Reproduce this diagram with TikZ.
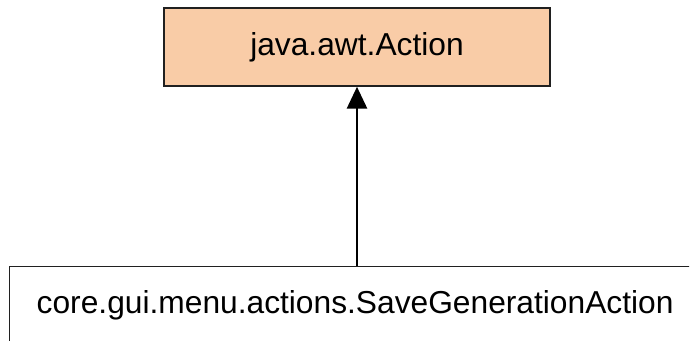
\documentclass[tikz,border=0pt]{standalone}
\usepackage{fontspec}
\setmainfont{Liberation Sans}
\usepackage{tikz}
\usetikzlibrary{arrows.meta}
\usetikzlibrary{shapes}
\usetikzlibrary{positioning}
\definecolor{classfill}{HTML}{F9CCA7}
\definecolor{classline}{HTML}{202020}
\tikzstyle{parentclass}=[rectangle,draw=classline,fill=classfill,line width=1.1pt,inner sep=0mm,minimum width=289.5pt,minimum height=58.5pt]
\tikzstyle{childclass}=[rectangle,draw=classline,fill=white,line width=1.1pt,inner xsep=20.25pt,inner ysep=0pt,minimum width=525pt,minimum height=58.2pt,text width=484.5pt,align=left]
\tikzstyle{inherit}=[-{Triangle[length=16.5pt,width=15pt]},line width=2.2pt]
\tikzset{every node/.style={font=\fontsize{23.8}{28}\selectfont}}

\begin{document}
\begin{tikzpicture}[x=0.75pt,y=-0.75pt]
    \useasboundingbox (0,0) rectangle (693,341);
    \clip (0,0) rectangle (689,341);
    \node[parentclass] at (357,47) (action) {java.awt.Action};
    \node[childclass,anchor=north west] at (9,266) (save) {core.gui.menu.actions.SaveGenerationAction};
    \draw[inherit] (save.north -| action.south) -- (action.south);
  \end{tikzpicture}
\end{document}
